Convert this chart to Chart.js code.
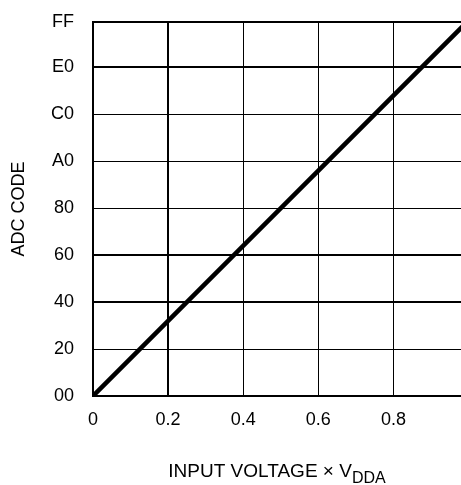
<!DOCTYPE html>
<html>
<head>
<meta charset="utf-8">
<script src="https://cdn.jsdelivr.net/npm/chart.js@4"></script>
<style>
  html, body { margin: 0; padding: 0; background: #fff; }
  #wrap { width: 461px; height: 485px; }
</style>
</head>
<body>
<div id="wrap"><canvas id="chart" width="461" height="485"></canvas></div>
<script>
// ideal transfer: code = 256 * Vin / VDDA
const inputVoltage = [0, 1];
const adcCode = [0, 256];

const xTicks = [0, 0.2, 0.4, 0.6, 0.8];
const xTickLabels = ['0', '0.2', '0.4', '0.6', '0.8'];
const yTicks = [0, 32, 64, 96, 128, 160, 192, 224, 255];
const yTickLabels = ['00', '20', '40', '60', '80', 'A0', 'C0', 'E0', 'FF'];

const FONT = "'Liberation Sans', Arial, sans-serif";

// x title has a subscript, so it is drawn by hand
const xTitlePlugin = {
  id: 'xTitle',
  afterDraw(chart) {
    const { ctx, chartArea } = chart;
    const main = 'INPUT VOLTAGE \u00d7 V';
    const sub = 'DDA';
    ctx.save();
    ctx.fillStyle = '#000';
    ctx.textBaseline = 'alphabetic';
    ctx.font = '19px ' + FONT;
    const wMain = ctx.measureText(main).width;
    ctx.font = '16px ' + FONT;
    const wSub = ctx.measureText(sub).width;
    const x0 = (chartArea.left + chartArea.right) / 2 - (wMain + wSub) / 2;
    const y = 477;
    ctx.font = '19px ' + FONT;
    ctx.fillText(main, x0, y);
    ctx.font = '16px ' + FONT;
    ctx.fillText(sub, x0 + wMain, y + 6);
    ctx.restore();
  },
};

const thickX = [true, true, false, false, false];
const thickY = [true, false, true, true, false, false, false, true, true];

new Chart(document.getElementById('chart'), {
  type: 'scatter',
  data: {
    datasets: [{
      data: inputVoltage.map((v, i) => ({ x: v, y: adcCode[i] })),
      showLine: true,
      borderColor: '#000',
      borderWidth: 4.5,
      pointRadius: 0,
      tension: 0,
    }],
  },
  options: {
    responsive: false,
    animation: false,
    events: [],
    layout: { padding: { top: 22, right: 0, left: 0, bottom: 0 } },
    plugins: { legend: { display: false }, tooltip: { enabled: false } },
    scales: {
      x: {
        type: 'linear',
        min: 0,
        max: 0.98,
        afterBuildTicks: (s) => { s.ticks = xTicks.map((v) => ({ value: v })); },
        afterFit: (s) => {
          s.height = 89;
          s.paddingLeft = 0;
          s.paddingRight = 0;
        },
        ticks: {
          color: '#000',
          font: { family: FONT, size: 18 },
          padding: 13,
          maxRotation: 0,
          callback: (v, i) => xTickLabels[i],
        },
        grid: {
          color: '#000',
          lineWidth: (c) => (thickX[c.index] ? 2 : 1),
          drawTicks: false,
        },
        border: { color: '#000', width: 2 },
      },
      y: {
        type: 'linear',
        min: 0,
        max: 255,
        afterBuildTicks: (s) => { s.ticks = yTicks.map((v) => ({ value: v })); },
        afterFit: (s) => {
          s.width = 93;
          s.paddingTop = 0;
          s.paddingBottom = 0;
        },
        ticks: {
          color: '#000',
          font: { family: FONT, size: 18 },
          padding: 19,
          callback: (v, i) => yTickLabels[i],
        },
        grid: {
          color: '#000',
          lineWidth: (c) => (thickY[c.index] ? 2 : 1),
          drawTicks: false,
        },
        border: { color: '#000', width: 2 },
        title: {
          display: true,
          text: 'ADC CODE',
          color: '#000',
          font: { family: FONT, size: 18 },
          padding: { top: 8, bottom: 0 },
        },
      },
    },
  },
  plugins: [xTitlePlugin],
});
</script>
</body>
</html>
